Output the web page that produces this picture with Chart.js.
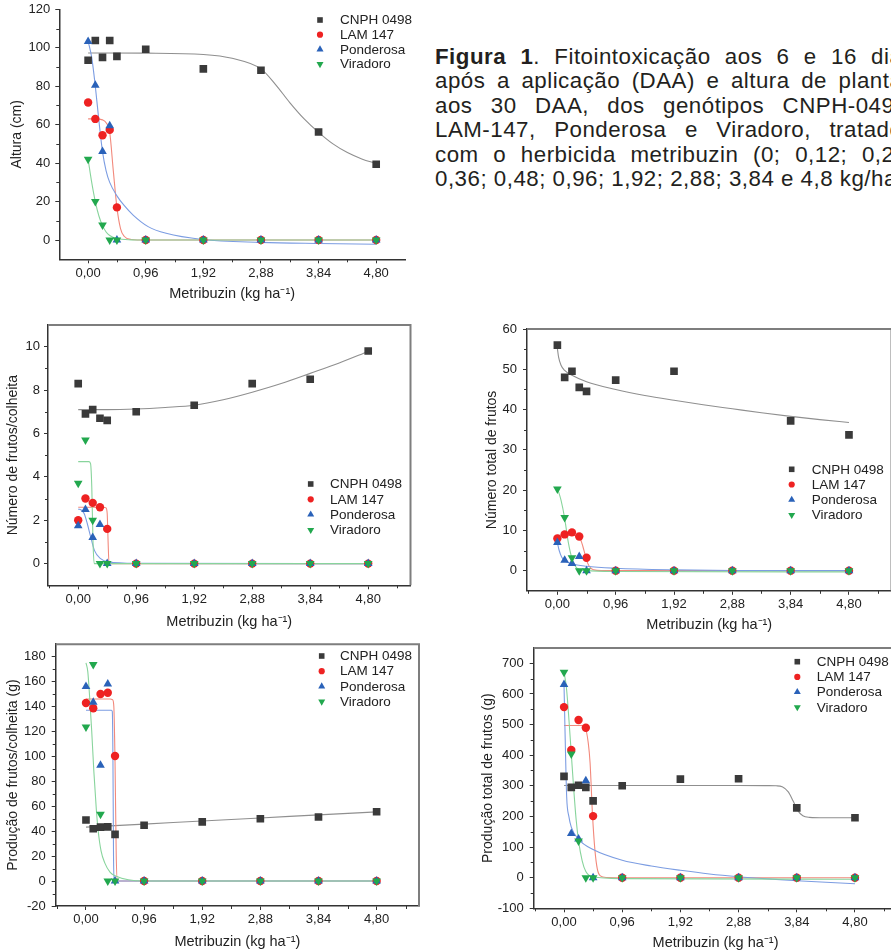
<!DOCTYPE html>
<html><head><meta charset="utf-8">
<script src="https://cdn.jsdelivr.net/npm/chart.js@4/dist/chart.umd.min.js"></script>
<style>
html,body{margin:0;padding:0;background:#fff;}
body{width:891px;height:952px;overflow:hidden;position:relative;}
canvas{position:absolute;}
#caption{position:absolute;left:435px;top:45px;width:479px;font-family:'Liberation Sans',Arial,sans-serif;font-size:22.3px;line-height:24.4px;color:#231f20;letter-spacing:0.5px;}
#caption .j{text-align:justify;text-align-last:justify;}
#caption .l{text-align:left;}
</style>
</head><body>
<div id="caption">
<div class="j"><b>Figura 1</b>. Fitointoxicação aos 6 e 16 dias</div>
<div class="j">após a aplicação (DAA) e altura de plantas</div>
<div class="j">aos 30 DAA, dos genótipos CNPH-0498,</div>
<div class="j">LAM-147, Ponderosa e Viradoro, tratados</div>
<div class="j">com o herbicida metribuzin (0; 0,12; 0,24;</div>
<div class="l">0,36; 0,48; 0,96; 1,92; 2,88; 3,84 e 4,8 kg/ha).</div>
</div>
<canvas id="c1"></canvas>
<canvas id="c2"></canvas>
<canvas id="c3"></canvas>
<canvas id="c4"></canvas>
<canvas id="c5"></canvas>
<script>
// ---------- shared ----------
const doses = [0, 0.12, 0.24, 0.36, 0.48, 0.96, 1.92, 2.88, 3.84, 4.80];
const xTickValues = [0, 0.96, 1.92, 2.88, 3.84, 4.80];
const xTickLabels = ['0,00', '0,96', '1,92', '2,88', '3,84', '4,80'];
const xMinorTicks = [-0.48, 0.48, 1.44, 2.40, 3.36, 4.32, 5.28];
const seriesNames = ['CNPH 0498', 'LAM 147', 'Ponderosa', 'Viradoro'];
const xTitle = 'Metribuzin (kg ha\u207B\u00B9)';

// ---------- Panel 1: Altura (cm) ----------
const alturaYTicks = [0, 20, 40, 60, 80, 100, 120];
const alturaYMinor = [10, 30, 50, 70, 90, 110];
const alturaCNPH = [93.5, 103.8, 95.0, 103.8, 95.5, 99.2, 89.0, 88.3, 56.2, 39.4];
const alturaLAM  = [71.5, 63.0, 54.5, 57.3, 17.0, 0, 0, 0, 0, 0];
const alturaPond = [103.2, 80.5, 46.0, 59.5, 0, 0, 0, 0, 0, 0];
const alturaVir  = [42.0, 20.0, 7.8, 0, 0, 0, 0, 0, 0, 0];
const alturaFitCNPH_x = [0, 0.96, 1.92, 2.4, 2.88, 3.12, 3.36, 3.6, 3.84, 4.08, 4.32, 4.56, 4.8];
const alturaFitCNPH_y = [97.3, 97.2, 96.5, 94.5, 89.0, 81.0, 71.5, 63.0, 56.0, 50.0, 45.5, 42.2, 39.8];
const alturaFitLAM_x = [0, 0.12, 0.24, 0.3, 0.36, 0.42, 0.48, 0.54, 0.6, 0.72, 0.96, 4.8];
const alturaFitLAM_y = [63, 63, 62.5, 61, 56, 36, 17, 6, 2, 0.3, 0, 0];
const alturaFitPond_x = [0, 0.06, 0.12, 0.18, 0.24, 0.3, 0.36, 0.48, 0.6, 0.75, 1.0, 1.3, 1.9, 2.88, 3.84, 4.8];
const alturaFitPond_y = [103.5, 95, 80, 62, 46, 36, 30, 23, 18, 13, 7, 3.5, 0.3, -1.2, -1.8, -2.2];
const alturaFitVir_x = [0, 0.06, 0.12, 0.18, 0.24, 0.3, 0.36, 0.48, 0.72, 0.96, 4.8];
const alturaFitVir_y = [42, 30, 20, 12.5, 7.5, 4.2, 2.4, 0.8, 0.1, 0, 0];

// ---------- Panel 2: Número de frutos/colheita ----------
const frutosYTicks = [0, 2, 4, 6, 8, 10];
const frutosYMinor = [1, 3, 5, 7, 9];
const frutosCNPH = [8.3, 6.9, 7.1, 6.7, 6.6, 7.0, 7.3, 8.3, 8.5, 9.8];
const frutosLAM  = [2.0, 3.0, 2.8, 2.6, 1.6, 0, 0, 0, 0, 0];
const frutosPond = [1.75, 2.5, 1.2, 1.8, 0, 0, 0, 0, 0, 0];
const frutosVir  = [3.7, 5.7, 2.0, 0, 0, 0, 0, 0, 0, 0];
const frutosFitCNPH_x = [0, 0.48, 0.96, 1.44, 1.92, 2.4, 2.88, 3.36, 3.84, 4.32, 4.8];
const frutosFitCNPH_y = [7.1, 7.1, 7.13, 7.2, 7.3, 7.55, 7.9, 8.3, 8.77, 9.25, 9.78];
const frutosFitLAM_x = [0, 0.42, 0.46, 0.48, 0.495, 0.51, 4.8];
const frutosFitLAM_y = [2.6, 2.6, 2.57, 2.3, 1.0, 0, 0];
const frutosFitPond_x = [0, 0.06, 0.1, 0.15, 0.2, 0.27, 0.37, 0.5, 0.96, 4.8];
const frutosFitPond_y = [2.52, 2.45, 2.3, 1.85, 1.3, 0.6, 0.23, 0.08, 0.01, 0];
const frutosFitVir_x = [0, 0.18, 0.205, 0.225, 0.245, 0.265, 4.8];
const frutosFitVir_y = [4.7, 4.7, 4.6, 3.5, 1.0, 0, 0];

// ---------- Panel 3: Número total de frutos ----------
const totalYTicks = [0, 10, 20, 30, 40, 50, 60];
const totalYMinor = [5, 15, 25, 35, 45, 55];
const totalCNPH = [56.0, 48.0, 49.5, 45.5, 44.5, 47.3, 49.5, null, 37.2, 33.7];
const totalLAM  = [8.0, 9.0, 9.5, 8.5, 3.2, 0, 0, 0, 0, 0];
const totalPond = [7.0, 2.6, 1.8, 3.5, 0, 0, 0, 0, 0, 0];
const totalVir  = [20.3, 13.2, 3.2, 0, 0, 0, 0, 0, 0, 0];
const totalFitCNPH_x = [0, 0.02, 0.06, 0.12, 0.24, 0.48, 0.96, 1.44, 1.92, 2.4, 2.88, 3.36, 3.84, 4.32, 4.8];
const totalFitCNPH_y = [55.2, 53.0, 51.0, 49.7, 48.5, 46.9, 45.0, 43.5, 42.3, 41.2, 40.2, 39.2, 38.3, 37.5, 36.8];
const totalFitLAM_x = [0, 0.12, 0.24, 0.33, 0.38, 0.42, 0.46, 0.5, 0.55, 0.6, 0.72, 4.8];
const totalFitLAM_y = [8.8, 8.8, 8.8, 8.6, 7.8, 6.0, 3.8, 1.8, 0.6, 0.2, 0, 0];
const totalFitPond_x = [0, 0.03, 0.07, 0.12, 0.24, 0.48, 0.96, 1.92, 2.88, 4.8];
const totalFitPond_y = [7.0, 5.0, 3.4, 2.5, 1.7, 1.1, 0.6, 0.2, 0.05, 0];
const totalFitVir_x = [0, 0.06, 0.12, 0.18, 0.24, 0.3, 0.36, 0.48, 0.96, 4.8];
const totalFitVir_y = [20.5, 17.5, 13.0, 7.0, 3.0, 1.0, 0.3, 0, -0.2, -0.3];

// ---------- Panel 4: Produção de frutos/colheita (g) ----------
const prodYTicks = [-20, 0, 20, 40, 60, 80, 100, 120, 140, 160, 180];
const prodYMinor = [-10, 10, 30, 50, 70, 90, 110, 130, 150, 170];
const prodCNPH = [49.0, 42.0, 43.3, 43.5, 37.5, 44.8, 47.5, 50.0, 51.4, 55.6];
const prodLAM  = [142.8, 138.6, 150.0, 151.0, 100.3, 0, 0, 0, 0, 0];
const prodPond = [156.0, 143.4, 93.0, 158.0, 0, 0, 0, 0, 0, 0];
const prodVir  = [123.5, 173.7, 53.5, 0, 0, 0, 0, 0, 0, 0];
const prodFitCNPH_x = [0, 0.96, 1.92, 2.88, 3.84, 4.8];
const prodFitCNPH_y = [43.3, 45.7, 48.2, 50.6, 53.1, 55.5];
const prodFitLAM_x = [0, 0.4, 0.44, 0.46, 0.48, 0.5, 0.52, 4.8];
const prodFitLAM_y = [146, 146, 145.5, 140, 95, 20, 0, 0];
const prodFitPond_x = [0, 0.42, 0.435, 0.445, 0.455, 0.465, 4.8];
const prodFitPond_y = [137, 137, 136, 100, 20, 0, 0];
const prodFitVir_x = [0, 0.03, 0.06, 0.094, 0.13, 0.17, 0.2, 0.25, 0.31, 0.4, 0.5, 0.7, 0.96, 4.8];
const prodFitVir_y = [175, 168, 148, 121, 88, 58, 41, 24, 14.6, 7, 3.9, 1, 0, 0];

// ---------- Panel 5: Produção total de frutos (g) ----------
const ptotYTicks = [-100, 0, 100, 200, 300, 400, 500, 600, 700];
const ptotYMinor = [-50, 50, 150, 250, 350, 450, 550, 650];
const ptotCNPH = [331, 295, 302, 295, 251, 300, 322, 323, 228, 195.6];
const ptotLAM  = [557, 416.8, 514.8, 489.8, 201, 0, 0, 0, 0, 0];
const ptotPond = [631, 144, 126, 316.6, 0, 0, 0, 0, 0, 0];
const ptotVir  = [670.6, 403.7, 119.4, 0, 0, 0, 0, 0, 0, 0];
const ptotFitCNPH_x = [0, 0.96, 1.92, 2.88, 3.36, 3.5, 3.6, 3.7, 3.78, 3.86, 3.94, 4.05, 4.3, 4.8];
const ptotFitCNPH_y = [301, 301, 301, 301, 300.5, 300, 297, 280, 250, 218, 202, 197, 195.5, 195.5];
const ptotFitLAM_x = [0, 0.3, 0.35, 0.4, 0.43, 0.47, 0.51, 0.55, 0.6, 0.7, 0.96, 4.8];
const ptotFitLAM_y = [497, 497, 490, 440, 375, 205, 90, 28, 6, 0.5, 0, 0];
const ptotFitPond_x = [0, 0.01, 0.02, 0.044, 0.08, 0.12, 0.24, 0.48, 0.96, 1.44, 1.92, 2.4, 2.88, 3.36, 3.84, 4.32, 4.8];
const ptotFitPond_y = [630, 540, 450, 264, 200, 165, 125, 92, 57, 38, 24, 12, 3, -4, -10, -15, -20];
const ptotFitVir_x = [0, 0.04, 0.08, 0.12, 0.16, 0.2, 0.24, 0.3, 0.36, 0.48, 0.96, 4.8];
const ptotFitVir_y = [672, 620, 520, 405, 290, 190, 120, 55, 20, 2, -3, -5];

// ---------- styles ----------
const STY = [
  {point: 'rect',     radius: 5.4, rot: 0,   color: '#3a3a3a', line: '#8f8f8f', order: 4},
  {point: 'circle',   radius: 4.2, rot: 0,   color: '#ee2222', line: '#f2897c', order: 3},
  {point: 'triangle', radius: 5.0, rot: 0,   color: '#2a62b9', line: '#7c9de2', order: 2},
  {point: 'triangle', radius: 5.0, rot: 180, color: '#22a84e', line: '#88d49c', order: 1}
];
const FONT = "'Liberation Sans', Arial, Helvetica, sans-serif";
Chart.defaults.font.family = FONT;
Chart.defaults.color = '#222';

function pts(xs, ys) {
  const out = [];
  xs.forEach((x, i) => { if (ys[i] !== null && ys[i] !== undefined) out.push({x: x, y: ys[i]}); });
  return out;
}

function datasetsFor(values, fits) {
  const ds = [];
  values.forEach((vals, i) => {
    const s = STY[i];
    ds.push({label: seriesNames[i], data: pts(doses, vals), showLine: false,
      pointStyle: s.point, pointRadius: s.radius, pointRotation: s.rot,
      pointBackgroundColor: s.color, pointBorderColor: s.color, pointBorderWidth: 0,
      order: s.order});
  });
  fits.forEach((f, i) => {
    const s = STY[i];
    ds.push({label: seriesNames[i] + ' (ajuste)', data: pts(f[0], f[1]), showLine: true,
      pointRadius: 0, borderColor: s.line, borderWidth: 1.1, cubicInterpolationMode: 'monotone',
      fill: false, order: 10 + s.order});
  });
  return ds;
}

function drawMarker(ctx, s, x, y, k) {
  ctx.fillStyle = s.color;
  ctx.beginPath();
  if (s.point === 'rect') {
    const a = 5.6 * k; ctx.rect(x - a / 2, y - a / 2, a, a);
  } else if (s.point === 'circle') {
    ctx.arc(x, y, 3.1 * k, 0, Math.PI * 2);
  } else {
    const w = 7 * k, h = w * 0.866, dir = s.rot ? -1 : 1;
    ctx.moveTo(x, y - dir * h * 2 / 3);
    ctx.lineTo(x - w / 2, y + dir * h / 3);
    ctx.lineTo(x + w / 2, y + dir * h / 3);
    ctx.closePath();
  }
  ctx.fill();
}

const decorPlugin = {
  id: 'decor',
  afterDraw(chart, args, o) {
    const ctx = chart.ctx, a = chart.chartArea;
    const xs = chart.scales.x, ys = chart.scales.y;
    ctx.save();
    if (o.box) {
      ctx.strokeStyle = '#7e7e7e'; ctx.lineWidth = 2;
      ctx.beginPath(); ctx.moveTo(a.left, a.top); ctx.lineTo(a.right, a.top); ctx.lineTo(a.right, a.bottom); ctx.stroke();
    }
    ctx.strokeStyle = '#333'; ctx.lineWidth = 1;
    o.xMinor.forEach(v => {
      const p = Math.round(xs.getPixelForValue(v)) + 0.5;
      if (p < a.left + 1 || p > a.right - 1) return;
      ctx.beginPath(); ctx.moveTo(p, a.bottom); ctx.lineTo(p, a.bottom + 3); ctx.stroke();
    });
    o.yMinor.forEach(v => {
      const p = Math.round(ys.getPixelForValue(v)) + 0.5;
      if (p < a.top + 1 || p > a.bottom - 1) return;
      ctx.beginPath(); ctx.moveTo(a.left, p); ctx.lineTo(a.left - 3, p); ctx.stroke();
    });
    // legend
    const lg = o.legend;
    ctx.font = '13.5px ' + FONT; ctx.textBaseline = 'middle'; ctx.textAlign = 'left';
    seriesNames.forEach((name, i) => {
      const y = a.top + lg.dy + i * lg.rowH;
      drawMarker(ctx, STY[i], a.left + lg.dx, y, 1);
      ctx.fillStyle = '#222';
      ctx.fillText(name, a.left + lg.tx, y + 0.5);
    });
    ctx.restore();
  }
};

function build(id, g, yTicks, yMinor, yTitle, values, fits) {
  const padTop = 16, padRight = 8;
  const cl = Math.floor(g.titleX - 10.4);
  const ct = Math.floor(g.T - padTop);
  const cw = Math.ceil(g.R + padRight - cl);
  const xAxisH = g.titleY + 14.5 * 1.2 / 2 - g.B;
  const ch = Math.ceil(g.B - ct + xAxisH);
  const layoutPad = {left: 0, top: g.T - ct, right: cw - (g.R - cl), bottom: ch - (g.B - ct) - xAxisH};
  const yAxisW = g.L - cl;
  const tp = g.titleX - cl - 14 * 1.2 / 2;
  const cv = document.getElementById(id);
  cv.width = cw; cv.height = ch;
  cv.style.left = cl + 'px'; cv.style.top = ct + 'px';
  cv.style.width = cw + 'px'; cv.style.height = ch + 'px';
  const lg = {dx: g.legend[0] - g.L, tx: g.legend[1] - g.L, dy: g.legend[2] - g.T, rowH: g.legend[3]};
  return new Chart(cv, {
    type: 'scatter',
    data: {datasets: datasetsFor(values, fits)},
    options: {
      responsive: false, animation: false, events: [],
      layout: {padding: layoutPad},
      plugins: {legend: {display: false}, tooltip: {enabled: false},
        decor: {box: g.box, xMinor: xMinorTicks, yMinor: yMinor, legend: lg}},
      scales: {
        x: {type: 'linear', position: 'bottom', min: g.xmin, max: g.xmax,
          afterBuildTicks: s => { s.ticks = xTickValues.map(v => ({value: v})); },
          afterFit: s => { s.height = xAxisH; },
          ticks: {autoSkip: false, maxRotation: 0, padding: 2, color: '#222', font: {size: 13},
            callback: (v, i) => xTickLabels[i]},
          grid: {display: true, drawOnChartArea: false, drawTicks: true, tickLength: 4, tickColor: '#333', tickWidth: 1},
          border: {display: true, color: '#333', width: 1.5},
          title: {display: true, text: xTitle, color: '#222', font: {size: 14.5}, padding: {top: 0, bottom: 0}}
        },
        y: {type: 'linear', position: 'left', min: g.ymin, max: g.ymax,
          afterBuildTicks: s => { s.ticks = yTicks.map(v => ({value: v})); },
          afterFit: s => { s.width = yAxisW; },
          ticks: {autoSkip: false, padding: g.yPad, color: '#222', font: {size: 13},
            callback: v => String(v)},
          grid: {display: true, drawOnChartArea: false, drawTicks: true, tickLength: 4, tickColor: '#333', tickWidth: 1},
          border: {display: true, color: '#333', width: 1.5},
          title: {display: true, text: yTitle, color: '#222', font: {size: 14}, padding: {top: tp, bottom: 0}}
        }
      }
    },
    plugins: [decorPlugin]
  });
}

build('c1', {L: 59.3, T: 9.3, R: 405, B: 259.3, titleX: 17, titleY: 294, yPad: 5, box: false,
    xmin: -0.48, xmax: 5.28, ymin: -10, ymax: 120, legend: [320, 340, 20, 14.7]},
  alturaYTicks, alturaYMinor, 'Altura (cm)',
  [alturaCNPH, alturaLAM, alturaPond, alturaVir],
  [[alturaFitCNPH_x, alturaFitCNPH_y], [alturaFitLAM_x, alturaFitLAM_y], [alturaFitPond_x, alturaFitPond_y], [alturaFitVir_x, alturaFitVir_y]]);

build('c2', {L: 48, T: 325, R: 410.5, B: 585.3, titleX: 13.3, titleY: 621.7, yPad: 4, box: true,
    xmin: -0.5, xmax: 5.5, ymin: -1, ymax: 11, legend: [310.7, 330, 484, 15.3]},
  frutosYTicks, frutosYMinor, 'Número de frutos/colheita',
  [frutosCNPH, frutosLAM, frutosPond, frutosVir],
  [[frutosFitCNPH_x, frutosFitCNPH_y], [frutosFitLAM_x, frutosFitLAM_y], [frutosFitPond_x, frutosFitPond_y], [frutosFitVir_x, frutosFitVir_y]]);

build('c3', {L: 527, T: 329, R: 891.5, B: 590.8, titleX: 491.7, titleY: 625, yPad: 6, box: true,
    xmin: -0.5, xmax: 5.5, ymin: -5, ymax: 60, legend: [791.7, 811.7, 469.3, 15.2]},
  totalYTicks, totalYMinor, 'Número total de frutos',
  [totalCNPH, totalLAM, totalPond, totalVir],
  [[totalFitCNPH_x, totalFitCNPH_y], [totalFitLAM_x, totalFitLAM_y], [totalFitPond_x, totalFitPond_y], [totalFitVir_x, totalFitVir_y]]);

build('c4', {L: 55.7, T: 644.2, R: 419, B: 906, titleX: 13.3, titleY: 941.7, yPad: 6, box: true,
    xmin: -0.5, xmax: 5.5, ymin: -20, ymax: 190, legend: [321.7, 340, 656, 15.2]},
  prodYTicks, prodYMinor, 'Produção de frutos/colheita (g)',
  [prodCNPH, prodLAM, prodPond, prodVir],
  [[prodFitCNPH_x, prodFitCNPH_y], [prodFitLAM_x, prodFitLAM_y], [prodFitPond_x, prodFitPond_y], [prodFitVir_x, prodFitVir_y]]);

build('c5', {L: 533.7, T: 648, R: 897.4, B: 908.3, titleX: 488.3, titleY: 943.3, yPad: 6, box: true,
    xmin: -0.5, xmax: 5.5, ymin: -100, ymax: 750, legend: [797.3, 816.7, 661.7, 15.2]},
  ptotYTicks, ptotYMinor, 'Produção total de frutos (g)',
  [ptotCNPH, ptotLAM, ptotPond, ptotVir],
  [[ptotFitCNPH_x, ptotFitCNPH_y], [ptotFitLAM_x, ptotFitLAM_y], [ptotFitPond_x, ptotFitPond_y], [ptotFitVir_x, ptotFitVir_y]]);
</script>
</body></html>
